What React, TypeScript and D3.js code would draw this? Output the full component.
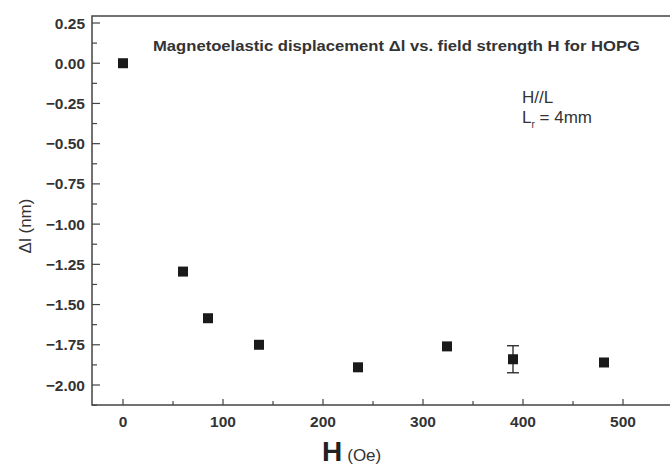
import React, { useEffect, useRef } from 'react'
import * as d3 from 'd3'

// field strength H (Oe) and displacement (nm)
const fieldH = [0, 60, 85, 136, 235, 324, 390, 481]
const deltaL = [0.0, -1.295, -1.585, -1.75, -1.89, -1.76, -1.84, -1.86]
const errH = [390]
const errSize = [0.084]
const yTicks = [0.25, 0.0, -0.25, -0.5, -0.75, -1.0, -1.25, -1.5, -1.75, -2.0]
const xTicks = [0, 100, 200, 300, 400, 500]

const App = () => {
  const node = useRef<SVGSVGElement | null>(null)

  useEffect(() => {
    const width = 670,
      height = 468,
      left = 92,
      right = 670,
      top = 16,
      bottom = 405
    const svg = d3.select(node.current)
    svg.selectAll('*').remove()

    const x = d3.scaleLinear().domain([-31, 547]).range([left, right])
    const y = d3.scaleLinear().domain([0.25, -2.0]).range([23, 385])
    const axisColor = '#444'
    const font = 'Liberation Sans, Arial, sans-serif'

    svg.attr('width', width).attr('height', height)

    // frame (left, top, bottom)
    svg.append('path')
      .attr('d', `M${right},${top}H${left}V${bottom}H${right}`)
      .attr('fill', 'none')
      .attr('stroke', axisColor)
      .attr('stroke-width', 1.5)

    // y ticks, pointing inside
    const yMinor = d3.range(0.125, -2.13, -0.25)
    svg.append('g').selectAll('line.ymaj').data(yTicks).enter().append('line')
      .attr('x1', left).attr('x2', left + 8)
      .attr('y1', d => y(d)).attr('y2', d => y(d))
      .attr('stroke', axisColor).attr('stroke-width', 1.2)
    svg.append('g').selectAll('line.ymin').data(yMinor).enter().append('line')
      .attr('x1', left).attr('x2', left + 5)
      .attr('y1', d => y(d)).attr('y2', d => y(d))
      .attr('stroke', axisColor).attr('stroke-width', 1.2)
    svg.append('g').selectAll('text').data(yTicks).enter().append('text')
      .attr('x', left - 7).attr('y', d => y(d) + 5.5)
      .attr('text-anchor', 'end')
      .attr('font-family', font).attr('font-weight', 'bold').attr('font-size', 15.5)
      .attr('fill', '#333')
      .text(d => d3.format('.2f')(d))

    // x ticks
    const xMinor = d3.range(50, 547, 100)
    svg.append('g').selectAll('line.xmaj').data(xTicks).enter().append('line')
      .attr('x1', d => x(d)).attr('x2', d => x(d))
      .attr('y1', bottom).attr('y2', bottom - 6)
      .attr('stroke', axisColor).attr('stroke-width', 1.2)
    svg.append('g').selectAll('line.xmin').data(xMinor).enter().append('line')
      .attr('x1', d => x(d)).attr('x2', d => x(d))
      .attr('y1', bottom).attr('y2', bottom - 4)
      .attr('stroke', axisColor).attr('stroke-width', 1.2)
    svg.append('g').selectAll('text').data(xTicks).enter().append('text')
      .attr('x', d => x(d)).attr('y', bottom + 21.5)
      .attr('text-anchor', 'middle')
      .attr('font-family', font).attr('font-weight', 'bold').attr('font-size', 15.5)
      .attr('fill', '#333')
      .text(d => d)

    // axis titles
    svg.append('text')
      .attr('transform', `translate(31,226) rotate(-90)`)
      .attr('text-anchor', 'middle')
      .attr('font-family', font).attr('font-size', 17).attr('fill', '#333')
      .text('Δl (nm)')
    const xl = svg.append('text')
      .attr('x', 322).attr('y', 461)
      .attr('font-family', font).attr('fill', '#222')
    xl.append('tspan').attr('font-size', 28).attr('font-weight', 'bold').text('H')
    xl.append('tspan').attr('font-size', 17).attr('fill', '#333').attr('dx', 5).text('(Oe)')

    // title and note
    svg.append('text')
      .attr('x', 153).attr('y', 51)
      .attr('font-family', font).attr('font-weight', 'bold').attr('font-size', 15)
      .attr('fill', '#333')
      .attr('textLength', 487)
      .attr('lengthAdjust', 'spacingAndGlyphs')
      .text('Magnetoelastic displacement Δl vs. field strength H for HOPG')
    svg.append('text')
      .attr('x', 522).attr('y', 103)
      .attr('font-family', font).attr('font-size', 17).attr('fill', '#333')
      .text('H//L')
    const lr = svg.append('text')
      .attr('x', 522).attr('y', 123)
      .attr('font-family', font).attr('font-size', 17).attr('fill', '#333')
    lr.append('tspan').text('L')
    lr.append('tspan').attr('font-size', 10).attr('dy', 5).text('r')
    lr.append('tspan').attr('dy', -5).text(' = 4mm')

    // error bars
    const errs = errH.map((h, i) => ({ h: h, v: deltaL[fieldH.indexOf(h)], e: errSize[i] }))
    const eg = svg.append('g').attr('stroke', '#222').attr('stroke-width', 1.3)
    errs.forEach(d => {
      eg.append('line')
        .attr('x1', x(d.h)).attr('x2', x(d.h))
        .attr('y1', y(d.v + d.e)).attr('y2', y(d.v - d.e))
      eg.append('line')
        .attr('x1', x(d.h) - 6).attr('x2', x(d.h) + 6)
        .attr('y1', y(d.v + d.e)).attr('y2', y(d.v + d.e))
      eg.append('line')
        .attr('x1', x(d.h) - 6).attr('x2', x(d.h) + 6)
        .attr('y1', y(d.v - d.e)).attr('y2', y(d.v - d.e))
    })

    // square markers
    const size = 10
    svg.append('g').selectAll('rect').data(fieldH).enter().append('rect')
      .attr('x', d => x(d) - size / 2)
      .attr('y', (d, i) => y(deltaL[i]) - size / 2)
      .attr('width', size).attr('height', size)
      .attr('fill', '#1a1a1a')
  }, [])

  return <svg ref={node} style={{ display: 'block', position: 'absolute', left: 0, top: 0 }}></svg>
}

export default App
